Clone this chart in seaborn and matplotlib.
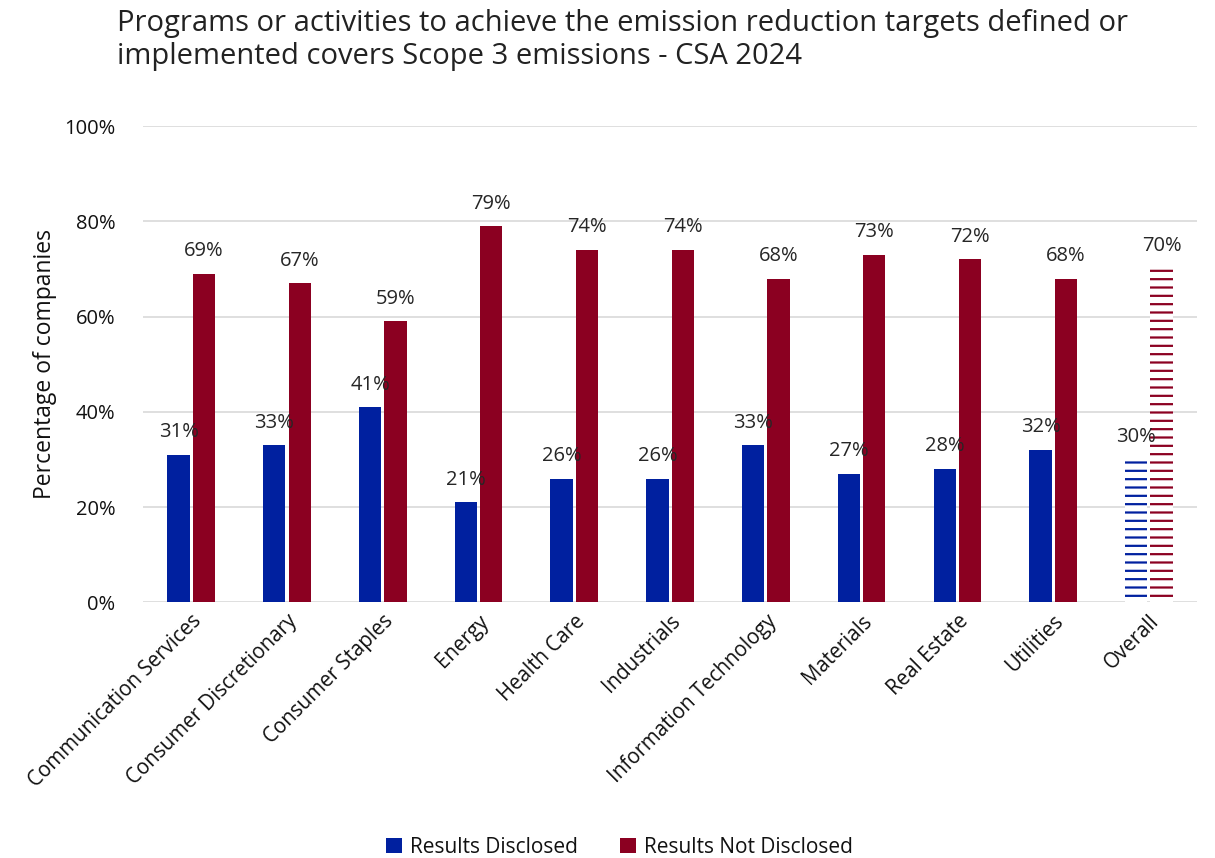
import matplotlib
matplotlib.use("Agg")
import matplotlib.pyplot as plt
import seaborn as sns
import pandas as pd

sectors = [
    "Communication Services", "Consumer Discretionary", "Consumer Staples",
    "Energy", "Health Care", "Industrials", "Information Technology",
    "Materials", "Real Estate", "Utilities", "Overall",
]
disclosed = [31, 33, 41, 21, 26, 26, 33, 27, 28, 32, 30]
not_disclosed = [69, 67, 59, 79, 74, 74, 68, 73, 72, 68, 70]
series_names = ["Results Disclosed", "Results Not Disclosed"]
colors = ["#00209F", "#8B0021"]
y_ticks = [0, 20, 40, 60, 80, 100]

df = pd.DataFrame({
    "sector": sectors * 2,
    "series": [series_names[0]] * len(sectors) + [series_names[1]] * len(sectors),
    "value": disclosed + not_disclosed,
})

sns.set_theme(style="white")
plt.rcParams["font.family"] = ["Open Sans", "DejaVu Sans"]
plt.rcParams["hatch.linewidth"] = 1.6

fig = plt.figure(figsize=(12.15, 8.58), dpi=100)
ax = fig.add_axes([0.118, 0.298, 0.867, 0.555])

sns.barplot(data=df, x="sector", y="value", hue="series", order=sectors,
            hue_order=series_names, palette=colors, width=0.53, gap=0.12,
            saturation=1, linewidth=0, ax=ax, legend=True)

# Overall bars drawn as striped outlines
n = len(sectors)
for i, cont in enumerate(ax.containers):
    for j, bar in enumerate(cont):
        bar.set_linewidth(0)
        if sectors[j] == "Overall":
            bar.set_facecolor("white")
            bar.set_edgecolor(colors[i])
            bar.set_hatch("--")
    vals = disclosed if i == 0 else not_disclosed
    ax.bar_label(cont, labels=[f"{v}%" for v in vals], padding=9,
                 fontsize=14.5, color="#262626")

ax.set_ylim(0, 100)
ax.set_yticks(y_ticks)
ax.set_yticklabels([f"{t}%" for t in y_ticks], fontsize=14.5, color="#111111")
ax.yaxis.grid(True, color="#D9D9D9", linewidth=1.2)
ax.set_axisbelow(True)
ax.tick_params(axis="y", length=0, pad=20)
ax.tick_params(axis="x", length=0, pad=6)
for side in ["top", "right", "left", "bottom"]:
    ax.spines[side].set_visible(False)
ax.set_xlim(-0.5, n - 0.5)
ax.set_xlabel("")
ax.set_ylabel("Percentage of companies", fontsize=16.5, labelpad=5,
              color="#111111")
ax.set_xticks(range(n))
ax.set_xticklabels(sectors, rotation=45, ha="right", rotation_mode="anchor",
                   fontsize=14.8, color="#111111")

handles, labels = ax.get_legend_handles_labels()
ax.legend(handles, labels, loc="lower center", bbox_to_anchor=(0.51, -0.022),
          bbox_transform=fig.transFigure, ncol=2, frameon=False, fontsize=15,
          labelcolor="#111111", handlelength=0.75, handleheight=0.75,
          columnspacing=2.0, handletextpad=0.4)

fig.text(0.096, 0.99, "Programs or activities to achieve the emission reduction targets defined or\n"
         "implemented covers Scope 3 emissions - CSA 2024",
         ha="left", va="top", fontsize=21, color="#222222", linespacing=1.2)

fig.savefig("out.png", dpi=100)
